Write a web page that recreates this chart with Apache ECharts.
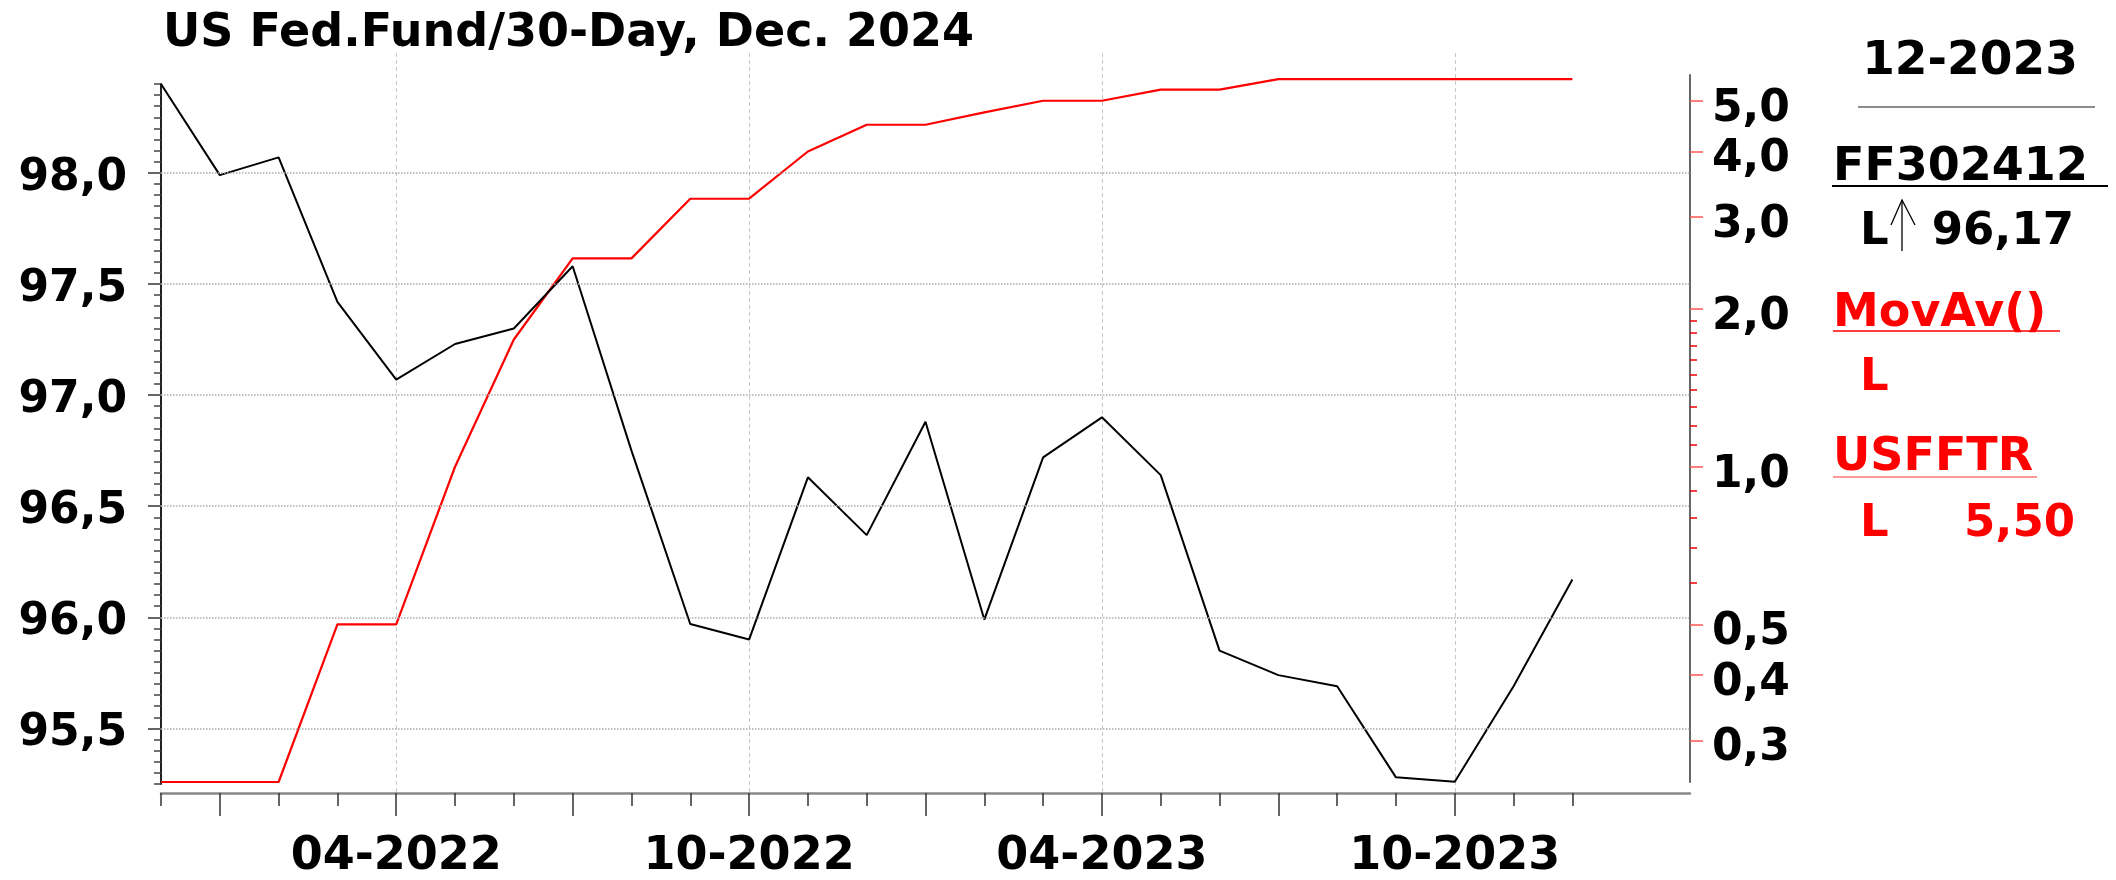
<!DOCTYPE html>
<html>
<head>
<meta charset="utf-8">
<script src="https://cdn.jsdelivr.net/npm/echarts@6.0.0/dist/echarts.min.js"></script>
<style>
  html, body { margin: 0; padding: 0; background: #fff; }
  #chart { width: 2116px; height: 880px; }
</style>
</head>
<body>
<div id="chart"></div>
<script>
// months on the x axis (axis runs two months past the last data point)
const months = [
  '12-2021', '01-2022', '02-2022', '03-2022', '04-2022', '05-2022', '06-2022',
  '07-2022', '08-2022', '09-2022', '10-2022', '11-2022', '12-2022',
  '01-2023', '02-2023', '03-2023', '04-2023', '05-2023', '06-2023',
  '07-2023', '08-2023', '09-2023', '10-2023', '11-2023', '12-2023',
  '01-2024', '02-2024'
];
// FF302412 (left axis)
const futuresValues = [
  98.40, 97.99, 98.07, 97.42, 97.07, 97.23, 97.30, 97.58, 96.75, 95.97,
  95.90, 96.63, 96.37, 96.88, 95.99, 96.72, 96.90, 96.64, 95.85, 95.74,
  95.69, 95.28, 95.26, 95.69, 96.17
];
// USFFTR (right axis, log)
const rateValues = [
  0.25, 0.25, 0.25, 0.50, 0.50, 1.00, 1.75, 2.50, 2.50, 3.25,
  3.25, 4.00, 4.50, 4.50, 4.75, 5.00, 5.00, 5.25, 5.25, 5.50,
  5.50, 5.50, 5.50, 5.50, 5.50
];
const leftLabels = [95.5, 96.0, 96.5, 97.0, 97.5, 98.0];
const rightLabels = [0.3, 0.4, 0.5, 1.0, 2.0, 3.0, 4.0, 5.0];
const rightMinor = [0.6, 0.7, 0.8, 0.9, 1.1, 1.2, 1.3, 1.4, 1.5, 1.6, 1.7, 1.8, 1.9];

const fontFamily = 'DejaVu Sans';
const lastIdx = futuresValues.length - 1;
const comma = (v, d) => v.toFixed(d).replace('.', ',');

const chart = echarts.init(document.getElementById('chart'), null, { renderer: 'canvas' });

const gridPos = { left: 161, right: 426 };
const hiddenX = (gridIndex) => ({
  type: 'category', gridIndex, data: months, boundaryGap: false, show: false
});

const bigLabel = { color: '#000', fontFamily, fontWeight: 'bold', fontSize: 44 };

// side panel text helper
const panelText = (x, y, text, fill, align = 'left', size = 45) => ({
  type: 'text', x, y,
  style: { text, align, verticalAlign: 'middle', fill, font: `bold ${size}px "${fontFamily}"` }
});

const option = {
  animation: false,
  backgroundColor: '#fff',
  title: {
    text: 'US Fed.Fund/30-Day, Dec. 2024',
    left: 158, top: 6,
    textStyle: { color: '#000', fontFamily, fontWeight: 'bold', fontSize: 46 }
  },
  grid: [
    { ...gridPos, top: 84, height: 700 },   // futures
    { ...gridPos, top: 75, height: 707 },   // rate
    { ...gridPos, top: 53, height: 755 }    // time axis + vertical grid
  ],
  xAxis: [
    hiddenX(0),
    hiddenX(1),
    {
      type: 'category', gridIndex: 2, data: months, boundaryGap: false, position: 'bottom',
      axisLine: { lineStyle: { color: '#888', width: 2.5 } },
      axisTick: { length: 13, lineStyle: { color: '#333', width: 1.5 },
        interval: (i) => i <= lastIdx },
      axisLabel: {
        interval: (i, v) => v.startsWith('04') || v.startsWith('10'),
        margin: 41, color: '#000', fontFamily, fontWeight: 'bold', fontSize: 46
      },
      splitLine: {
        show: true,
        interval: (i, v) => v.startsWith('04') || v.startsWith('10'),
        lineStyle: { color: '#c8c8c8', type: [4, 3], width: 1 }
      }
    },
    {
      type: 'category', gridIndex: 2, data: months, boundaryGap: false, position: 'bottom',
      axisLine: { show: false },
      axisTick: { length: 23, lineStyle: { color: '#333', width: 1.5 },
        interval: (i, v) => i <= lastIdx && ['01', '04', '07', '10'].includes(v.slice(0, 2)) },
      axisLabel: { show: false },
      splitLine: { show: false }
    }
  ],
  yAxis: [
    {
      type: 'value', gridIndex: 0, position: 'left', min: 95.25, max: 98.4, interval: 0.05,
      axisLine: { show: true, lineStyle: { color: '#222', width: 2 } },
      axisTick: { show: true, length: 7, lineStyle: { color: '#444', width: 1.5 } },
      axisLabel: { show: false },
      splitLine: { show: false }
    },
    {
      type: 'value', gridIndex: 0, position: 'left', min: 95.25, max: 98.4,
      axisLine: { show: false },
      axisTick: { show: true, customValues: leftLabels, length: 13, lineStyle: { color: '#666', width: 2 } },
      axisLabel: { customValues: leftLabels, margin: 34, verticalAlign: 'top', lineHeight: 11,
        formatter: (v) => comma(v, 1), ...bigLabel },
      splitLine: { show: false }
    },
    {
      type: 'log', gridIndex: 1, position: 'right', min: 0.25, max: 5.6,
      axisLine: { show: true, lineStyle: { color: '#666', width: 2 } },
      axisTick: { show: true, customValues: rightLabels, length: 13, lineStyle: { color: '#f55', width: 1.5 } },
      axisLabel: { customValues: rightLabels, margin: 22, verticalAlign: 'top', lineHeight: 17,
        formatter: (v) => comma(v, 1), ...bigLabel },
      splitLine: { show: false },
      minorTick: { show: false }
    },
    {
      type: 'log', gridIndex: 1, position: 'right', min: 0.25, max: 5.6,
      axisLine: { show: false },
      axisTick: { show: true, customValues: rightMinor, length: 7, lineStyle: { color: '#e00', width: 1.5 } },
      axisLabel: { show: false },
      splitLine: { show: false }
    },
    { type: 'value', gridIndex: 2, min: 0, max: 1, show: false }
  ],
  series: [
    {
      name: 'FF302412', type: 'line', xAxisIndex: 0, yAxisIndex: 0,
      data: futuresValues, symbol: 'none', z: 3,
      lineStyle: { color: '#000', width: 2 },
      markLine: {
        silent: true, symbol: ['none', 'none'], label: { show: false },
        lineStyle: { color: '#aaa', type: 'dotted', width: 1.5 },
        emphasis: { disabled: true },
        data: leftLabels.map((v) => ({ yAxis: v }))
      }
    },
    {
      name: 'USFFTR', type: 'line', xAxisIndex: 1, yAxisIndex: 2,
      data: rateValues, symbol: 'none', z: 2,
      lineStyle: { color: '#ff0000', width: 2.2 }
    }
  ],
  graphic: [
    panelText(1970, 62, months[lastIdx], '#000', 'center', 47),
    { type: 'line', shape: { x1: 1858, y1: 107, x2: 2095, y2: 107 }, style: { stroke: '#666', lineWidth: 1.5 } },
    panelText(1833, 168, 'FF302412', '#000', 'left', 46),
    { type: 'line', shape: { x1: 1832, y1: 186, x2: 2108, y2: 186 }, style: { stroke: '#000', lineWidth: 2 } },
    panelText(1860, 232, 'L', '#000'),
    { type: 'polyline', shape: { points: [[1902, 251], [1902, 200]] }, style: { stroke: '#000', lineWidth: 1.3 } },
    { type: 'polyline', shape: { points: [[1891, 225], [1902, 200], [1915, 225]] }, style: { stroke: '#000', lineWidth: 1.3, fill: null } },
    panelText(2074, 232, comma(futuresValues[lastIdx], 2), '#000', 'right'),
    panelText(1833, 314, 'MovAv()', '#ff0000', 'left', 46),
    { type: 'line', shape: { x1: 1833, y1: 331, x2: 2060, y2: 331 }, style: { stroke: '#ff0000', lineWidth: 1.5 } },
    panelText(1860, 378, 'L', '#ff0000'),
    panelText(1833, 458, 'USFFTR', '#ff0000', 'left', 46),
    { type: 'line', shape: { x1: 1833, y1: 477, x2: 2037, y2: 477 }, style: { stroke: '#f77', lineWidth: 1.5 } },
    panelText(1860, 524, 'L', '#ff0000'),
    panelText(2075, 524, comma(rateValues[lastIdx], 2), '#ff0000', 'right')
  ]
};

chart.setOption(option);
</script>
</body>
</html>
